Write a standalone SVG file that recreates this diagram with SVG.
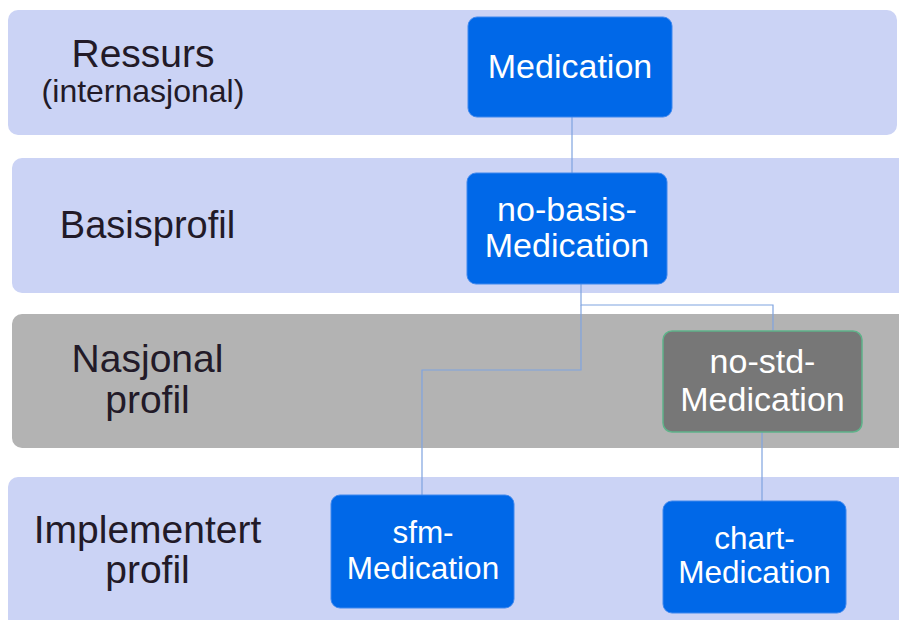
<svg xmlns="http://www.w3.org/2000/svg" width="899" height="620" viewBox="0 0 899 620">
<style>
.band{fill:#cbd3f5}
.gband{fill:#b3b3b3}
.lbl{font-family:"Liberation Sans",Arial,sans-serif;fill:#221a28;text-anchor:middle}
.box{fill:#0068e8;stroke:#3f88ee;stroke-width:1}
.gbox{fill:#777777;stroke:#5fb38a;stroke-width:1.5}
.bt{font-family:"Liberation Sans",Arial,sans-serif;fill:#ffffff;text-anchor:middle}
.conn{fill:none;stroke:#7fa3e0;stroke-width:1.2}
</style>
<rect width="899" height="620" fill="#ffffff"/>
<g id="band-ressurs">
<rect class="band" x="8" y="10" width="889" height="125" rx="10"/>
<text class="lbl" x="143" y="67" font-size="39">Ressurs</text>
<text class="lbl" x="143" y="102" font-size="32">(internasjonal)</text>
</g>
<g id="band-basis">
<rect class="band" x="12" y="158" width="900" height="135" rx="10"/>
<text class="lbl" x="147.5" y="238" font-size="38">Basisprofil</text>
</g>
<g id="band-nasjonal">
<rect class="gband" x="12" y="314" width="900" height="134" rx="10"/>
<text class="lbl" x="147.5" y="372" font-size="39">Nasjonal</text>
<text class="lbl" x="147.5" y="413" font-size="39">profil</text>
</g>
<g id="band-implementert">
<rect class="band" x="8" y="477" width="900" height="160" rx="10"/>
<text class="lbl" x="147.5" y="543" font-size="39">Implementert</text>
<text class="lbl" x="147.5" y="583" font-size="39">profil</text>
</g>
<g id="connectors">
<path class="conn" d="M572 117 V173"/>
<path class="conn" d="M581 284 V305 H773 V331"/>
<path class="conn" d="M581 305 V370 H422 V495"/>
<path class="conn" d="M762 432 V501"/>
</g>
<g id="node-medication">
<rect class="box" x="468" y="17" width="204" height="100" rx="9"/>
<text class="bt" x="570" y="78" font-size="34">Medication</text>
</g>
<g id="node-no-basis">
<rect class="box" x="467" y="173" width="200" height="111" rx="9"/>
<text class="bt" x="567" y="221" font-size="34">no-basis-</text>
<text class="bt" x="567" y="257" font-size="34">Medication</text>
</g>
<g id="node-no-std">
<rect class="gbox" x="663" y="331" width="199" height="101" rx="9"/>
<text class="bt" x="762.5" y="373" font-size="34">no-std-</text>
<text class="bt" x="762.5" y="411" font-size="34">Medication</text>
</g>
<g id="node-sfm">
<rect class="box" x="331" y="495" width="183" height="113" rx="9"/>
<text class="bt" x="423" y="543" font-size="31.5">sfm-</text>
<text class="bt" x="423" y="579" font-size="31.5">Medication</text>
</g>
<g id="node-chart">
<rect class="box" x="663" y="501" width="183" height="112" rx="9"/>
<text class="bt" x="754.5" y="549" font-size="31.5">chart-</text>
<text class="bt" x="754.5" y="583" font-size="31.5">Medication</text>
</g>
</svg>
